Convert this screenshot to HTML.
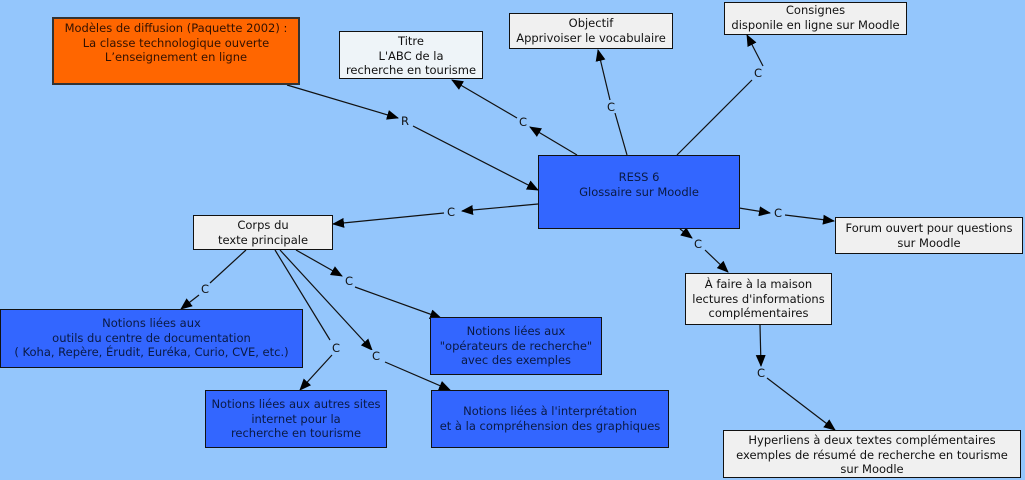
<!DOCTYPE html>
<html><head><meta charset="utf-8"><style>
body{margin:0;width:1025px;height:480px;background:#94c6fc;position:relative;overflow:hidden;font-family:"DejaVu Sans",Verdana,sans-serif;font-size:11.5px;color:#111}
.b{position:absolute;box-sizing:border-box;border:1px solid #111;background:#f0f0f0;text-align:center;line-height:14.5px;padding-top:2px;white-space:nowrap}
.bl{background:#3366ff;color:#0a1a44}
.l{position:absolute;font-size:11.5px;line-height:12px;background:#94c6fc;padding:0 1px}
svg{position:absolute;left:0;top:0}
</style></head><body>
<svg width="1025" height="480"><defs><marker id="a" markerWidth="12" markerHeight="10" refX="11" refY="5" orient="auto" markerUnits="userSpaceOnUse"><path d="M0,0L12,5L0,10z" fill="#000"/></marker></defs>
<g stroke="#111" stroke-width="1.2" fill="none">
<line x1="287" y1="85" x2="398" y2="118" marker-end="url(#a)"/>
<line x1="413" y1="126" x2="538" y2="190" marker-end="url(#a)"/>
<line x1="577" y1="155" x2="530" y2="127" marker-end="url(#a)"/>
<line x1="517" y1="118" x2="452" y2="80" marker-end="url(#a)"/>
<line x1="627" y1="155" x2="615" y2="113"/>
<line x1="610" y1="100" x2="598" y2="50" marker-end="url(#a)"/>
<line x1="677" y1="155" x2="752" y2="80"/>
<line x1="763" y1="66" x2="747" y2="35" marker-end="url(#a)"/>
<line x1="538" y1="204" x2="462" y2="211" marker-end="url(#a)"/>
<line x1="444" y1="213" x2="333" y2="224" marker-end="url(#a)"/>
<line x1="739" y1="208" x2="770" y2="213" marker-end="url(#a)"/>
<line x1="785" y1="215" x2="834" y2="221" marker-end="url(#a)"/>
<line x1="680" y1="229" x2="692" y2="238" marker-end="url(#a)"/>
<line x1="705" y1="250" x2="728" y2="272" marker-end="url(#a)"/>
<line x1="246" y1="250" x2="210" y2="283"/>
<line x1="199" y1="295" x2="181" y2="309" marker-end="url(#a)"/>
<line x1="296" y1="250" x2="342" y2="276" marker-end="url(#a)"/>
<line x1="355" y1="287" x2="441" y2="318" marker-end="url(#a)"/>
<line x1="275" y1="250" x2="330" y2="340"/>
<line x1="332" y1="355" x2="300" y2="390" marker-end="url(#a)"/>
<line x1="280" y1="250" x2="372" y2="350" marker-end="url(#a)"/>
<line x1="385" y1="362" x2="450" y2="390" marker-end="url(#a)"/>
<line x1="760" y1="325" x2="761" y2="366" marker-end="url(#a)"/>
<line x1="767" y1="378" x2="835" y2="430" marker-end="url(#a)"/>
</g></svg>
<div class="b" style="left:52px;top:17px;width:248px;height:68px;background:#ff6600;border:2px solid #333;color:#331100">Modèles de diffusion (Paquette 2002) :<br>La classe technologique ouverte<br>L’enseignement en ligne</div>
<div class="b" style="left:339px;top:31px;width:144px;height:48px;background:#eef4f8">Titre<br>L'ABC de la<br>recherche en tourisme</div>
<div class="b" style="left:509px;top:13px;width:164px;height:36px">Objectif<br>Apprivoiser le vocabulaire</div>
<div class="b" style="left:724px;top:2px;width:183px;height:33px;padding-top:0">Consignes<br>disponile en ligne sur Moodle</div>
<div class="b bl" style="left:538px;top:155px;width:202px;height:74px;padding-top:14px">RESS 6<br>Glossaire sur Moodle</div>
<div class="b" style="left:193px;top:215px;width:140px;height:35px">Corps du<br>texte principale</div>
<div class="b" style="left:835px;top:217px;width:188px;height:37px;padding-top:3px">Forum ouvert pour questions<br>sur Moodle</div>
<div class="b" style="left:685px;top:273px;width:147px;height:52px;padding-top:3px">À faire à la maison<br>lectures d'informations<br>complémentaires</div>
<div class="b bl" style="left:0px;top:309px;width:303px;height:59px;padding-top:6px">Notions liées aux<br>outils du centre de documentation<br>( Koha, Repère, Érudit, Euréka, Curio, CVE, etc.)</div>
<div class="b bl" style="left:430px;top:317px;width:172px;height:58px;padding-top:6px">Notions liées aux<br>"opérateurs de recherche"<br>avec des exemples</div>
<div class="b bl" style="left:205px;top:390px;width:182px;height:58px;padding-top:6px">Notions liées aux autres sites<br>internet pour la<br>recherche en tourisme</div>
<div class="b bl" style="left:431px;top:390px;width:238px;height:58px;padding-top:13px">Notions liées à l'interprétation<br>et à la compréhension des graphiques</div>
<div class="b" style="left:723px;top:430px;width:298px;height:48px;padding-top:2px">Hyperliens à deux textes complémentaires<br>exemples de résumé de recherche en tourisme<br>sur Moodle</div>
<div class="l" style="left:400px;top:115px">R</div>
<div class="l" style="left:518px;top:116px">C</div>
<div class="l" style="left:606px;top:101px">C</div>
<div class="l" style="left:753px;top:67px">C</div>
<div class="l" style="left:446px;top:206px">C</div>
<div class="l" style="left:773px;top:207px">C</div>
<div class="l" style="left:693px;top:238px">C</div>
<div class="l" style="left:200px;top:283px">C</div>
<div class="l" style="left:344px;top:275px">C</div>
<div class="l" style="left:331px;top:342px">C</div>
<div class="l" style="left:371px;top:350px">C</div>
<div class="l" style="left:756px;top:367px">C</div>
</body></html>
